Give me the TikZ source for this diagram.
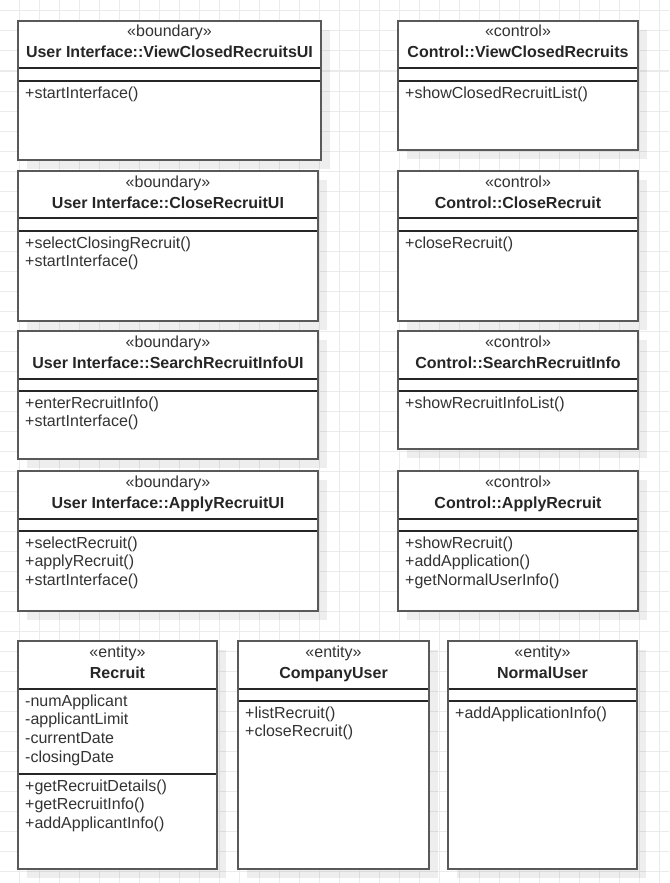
\documentclass[tikz,border=0pt]{standalone}
\usepackage{fontspec}
\setmainfont{Liberation Sans}
\definecolor{ink}{HTML}{333333}
\definecolor{framec}{HTML}{595959}
\definecolor{gridc}{HTML}{EBEBEB}
\tikzset{
  gridline/.style={draw=gridc, line width=1pt},
  frameline/.style={draw=framec, line width=2pt},
  divline/.style={draw=black!85, line width=1.2pt},
  shadowfill/.style={fill=black, fill opacity=0.065},
  stereo/.style={anchor=base, inner sep=0pt, text=ink, font=\fontsize{16}{19}\selectfont},
  classname/.style={anchor=base, inner sep=0pt, text=black!85, font=\fontsize{16}{19}\selectfont\bfseries},
  member/.style={anchor=base west, inner sep=0pt, text=ink, font=\fontsize{16}{19}\selectfont},
}
% #1 id, #2 left, #3 top, #4 right, #5 bottom, #6 first divider, #7 second divider, #8 stereotype, #9 class name
\newcommand\classbox[9]{%
  \fill[shadowfill] (#2+9,#3+9) rectangle (#4+9,#5+9);
  \fill[white] (#2,#3) rectangle (#4,#5);
  \draw[divline] (#2,#6) -- (#4,#6) (#2,#7) -- (#4,#7);
  \draw[frameline] (#2,#3) rectangle (#4,#5);
  \node[stereo] (#1-st) at ({(#2+#4)/2},#3+16) {«#8»};
  \node[classname] (#1-nm) at ({(#2+#4)/2},#3+37) {#9};
}
% #1 id, #2 left of box, #3 divider above the list, #4 lines
\newcommand\members[4]{%
  \foreach \t [count=\i] in {#4} {\node[member] (#1-\i) at (#2+7,{#3+17+18.7*(\i-1)}) {\t};}%
}
\begin{document}
\begin{tikzpicture}[x=1pt,y=-1pt]
  \useasboundingbox (0,0) rectangle (669,883);
  \fill[white] (0,0) rectangle (669,883);
  % background grid
  \foreach \gx in {-1,19,...,659} \draw[gridline] (\gx,0) -- (\gx,883);
  \foreach \gy in {11,31,...,871} \draw[gridline] (0,\gy) -- (669,\gy);

  % boundary and control classes
  \classbox{vcui}{18}{21}{321}{160}{68}{81}{boundary}{User Interface::ViewClosedRecruitsUI}
  \members{vcui-m}{18}{81}{+startInterface()}
  \classbox{vc}{398}{21}{638}{150}{68}{81}{control}{Control::ViewClosedRecruits}
  \members{vc-m}{398}{81}{+showClosedRecruitList()}

  \classbox{crui}{18}{171}{318}{321}{218}{231}{boundary}{User Interface::CloseRecruitUI}
  \members{crui-m}{18}{231}{+selectClosingRecruit(),+startInterface()}
  \classbox{cr}{398}{171}{638}{321}{218}{231}{control}{Control::CloseRecruit}
  \members{cr-m}{398}{231}{+closeRecruit()}

  \classbox{sriui}{18}{331}{318}{459}{379}{391}{boundary}{User Interface::SearchRecruitInfoUI}
  \members{sriui-m}{18}{391}{+enterRecruitInfo(),+startInterface()}
  \classbox{sri}{398}{331}{638}{449}{379}{391}{control}{Control::SearchRecruitInfo}
  \members{sri-m}{398}{391}{+showRecruitInfoList()}

  \classbox{arui}{18}{471}{318}{611}{519}{531}{boundary}{User Interface::ApplyRecruitUI}
  \members{arui-m}{18}{531}{+selectRecruit(),+applyRecruit(),+startInterface()}
  \classbox{ar}{398}{471}{638}{611}{519}{531}{control}{Control::ApplyRecruit}
  \members{ar-m}{398}{531}{+showRecruit(),+addApplication(),+getNormalUserInfo()}

  % entity classes
  \classbox{rec}{18}{641}{217}{869}{689}{774}{entity}{Recruit}
  \members{rec-a}{18}{689}{-numApplicant,-applicantLimit,-currentDate,-closingDate}
  \members{rec-m}{18}{774}{+getRecruitDetails(),+getRecruitInfo(),+addApplicantInfo()}
  \classbox{cu}{238}{641}{429}{869}{689}{701}{entity}{CompanyUser}
  \members{cu-m}{238}{701}{+listRecruit(),+closeRecruit()}
  \classbox{nu}{448}{641}{637}{869}{689}{701}{entity}{NormalUser}
  \members{nu-m}{448}{701}{+addApplicationInfo()}
\end{tikzpicture}
\end{document}
